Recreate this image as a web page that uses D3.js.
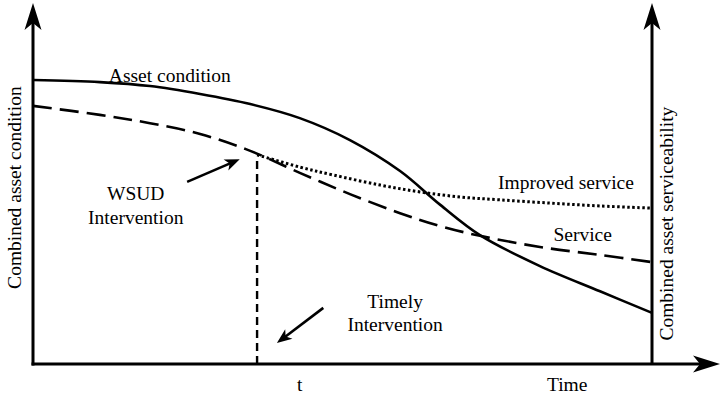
<!DOCTYPE html>
<html>
<head>
<meta charset="utf-8">
<script src="https://cdn.jsdelivr.net/npm/d3@7"></script>
<style>
  html, body { margin: 0; padding: 0; background: #fff; }
  svg { display: block; }
  text { font-family: "Liberation Serif", "Times New Roman", serif; fill: #000; }
</style>
</head>
<body>
<svg id="chart" width="721" height="394"></svg>
<script>
// ---- Data (time 0..100, value 0..100) ----
const assetTime   = [0, 10.8, 18.9, 27.0, 35.1, 43.1, 51.2, 59.3, 65.8, 72.2, 81.9, 91.6, 100];
const assetValue  = [78.9, 78.3, 77.2, 75.0, 72.2, 68.3, 62.2, 53.6, 44.2, 35.8, 27.2, 20.2, 14.2];

const serviceTime  = [0, 10.8, 18.9, 27.0, 35.1, 43.1, 51.2, 59.3, 65.8, 72.2, 81.9, 91.6, 100];
const serviceValue = [71.7, 69.2, 66.9, 63.9, 59.2, 53.1, 47.2, 41.9, 38.3, 35.6, 32.5, 30.3, 28.3];

const improvedTime  = [36.2, 43.1, 48.5, 56.1, 62.5, 69.0, 75.4, 83.5, 91.6, 100];
const improvedValue = [58.1, 54.7, 52.5, 49.7, 47.8, 46.4, 45.6, 44.7, 43.9, 43.3];

const interventionTime = 36.2;
const interventionTop = 57.8;

// annotation arrows [fromT, fromV, toT, toV]
const wsudArrow   = [24.9, 50.6, 33.4, 56.9];
const timelyArrow = [46.9, 15.6, 39.4, 5.8];

// labels: [text, t, v]
const labels = [
  ["Asset condition", 22.1, 78.3],
  ["WSUD", 16.6, 45.6],
  ["Intervention", 16.6, 38.9],
  ["Timely", 58.5, 15.6],
  ["Intervention", 58.5, 9.2],
  ["Improved service", 86.1, 48.6],
  ["Service", 88.8, 34.2]
];
const xTickLabels = [["t", 43.1], ["Time", 86.3]];
const yLabelLeft = "Combined asset condition";
const yLabelRight = "Combined asset serviceability";

// ---- Scales ----
const x0 = 33, x1 = 652, yBottom = 364, yTop = 4;
const x = d3.scaleLinear().domain([0, 100]).range([x0, x1]);
const y = d3.scaleLinear().domain([0, 100]).range([yBottom, yTop]);

const svg = d3.select("#chart");
svg.append("rect").attr("width", 721).attr("height", 394).attr("fill", "#fff");

const line = d3.line().x(d => x(d[0])).y(d => y(d[1])).curve(d3.curveCatmullRom.alpha(0.5));

// Asset condition (solid)
svg.append("path")
  .datum(assetTime.map((t, i) => [t, assetValue[i]]))
  .attr("d", line).attr("fill", "none").attr("stroke", "#000").attr("stroke-width", 2.6);

// Service (dashed)
svg.append("path")
  .datum(serviceTime.map((t, i) => [t, serviceValue[i]]))
  .attr("d", line).attr("fill", "none").attr("stroke", "#000").attr("stroke-width", 2.6)
  .attr("stroke-dasharray", "19,8");

// Improved service (dotted)
svg.append("path")
  .datum(improvedTime.map((t, i) => [t, improvedValue[i]]))
  .attr("d", line).attr("fill", "none").attr("stroke", "#000").attr("stroke-width", 3)
  .attr("stroke-dasharray", "2.5,2.5");

// Intervention vertical dashed
svg.append("line")
  .attr("x1", x(interventionTime)).attr("x2", x(interventionTime))
  .attr("y1", y(0)).attr("y2", y(interventionTop))
  .attr("stroke", "#000").attr("stroke-width", 2.4).attr("stroke-dasharray", "8,5");

// Axes
function arrowHead(tx, ty, angleDeg, len, half, notch) {
  const pts = [[0, 0], [-len, half], [-len + notch, 0], [-len, -half]];
  const a = angleDeg * Math.PI / 180;
  const p = pts.map(([px, py]) => [tx + px * Math.cos(a) - py * Math.sin(a), ty + px * Math.sin(a) + py * Math.cos(a)]);
  svg.append("path").attr("d", "M" + p.map(q => q.join(",")).join("L") + "Z").attr("fill", "#000");
}

const axisW = 3;
// left axis
svg.append("line").attr("x1", x(0)).attr("x2", x(0)).attr("y1", y(0) + 1.5).attr("y2", 20)
  .attr("stroke", "#000").attr("stroke-width", axisW);
arrowHead(x(0), 3, -90, 27, 8.5, 7);
// right axis
svg.append("line").attr("x1", x(100)).attr("x2", x(100)).attr("y1", y(0)).attr("y2", 20)
  .attr("stroke", "#000").attr("stroke-width", axisW);
arrowHead(x(100), 3, -90, 27, 8.5, 7);
// bottom axis
svg.append("line").attr("x1", x(0) - 1.5).attr("x2", 705).attr("y1", y(0)).attr("y2", y(0))
  .attr("stroke", "#000").attr("stroke-width", axisW);
arrowHead(720, y(0), 0, 27, 8.5, 7);

// annotation arrows
function annArrow(a) {
  const fx = x(a[0]), fy = y(a[1]), tx = x(a[2]), ty = y(a[3]);
  const ang = Math.atan2(ty - fy, tx - fx);
  const back = 8;
  svg.append("line").attr("x1", fx).attr("y1", fy)
    .attr("x2", tx - back * Math.cos(ang)).attr("y2", ty - back * Math.sin(ang))
    .attr("stroke", "#000").attr("stroke-width", 2.6);
  arrowHead(tx, ty, ang * 180 / Math.PI, 15, 6, 4);
}
annArrow(wsudArrow);
annArrow(timelyArrow);

// text labels
const fs = 19.5;
labels.forEach(([txt, t, v]) => {
  svg.append("text").attr("x", x(t)).attr("y", y(v)).attr("text-anchor", "middle")
    .attr("font-size", fs).text(txt);
});
xTickLabels.forEach(([txt, t]) => {
  svg.append("text").attr("x", x(t)).attr("y", 391).attr("text-anchor", "middle")
    .attr("font-size", fs).text(txt);
});
svg.append("text").attr("transform", `translate(21,${y(49)}) rotate(-90)`)
  .attr("text-anchor", "middle").attr("font-size", fs).text(yLabelLeft);
svg.append("text").attr("transform", `translate(673,${y(39)}) rotate(-90)`)
  .attr("text-anchor", "middle").attr("font-size", fs).text(yLabelRight);
</script>
</body>
</html>
